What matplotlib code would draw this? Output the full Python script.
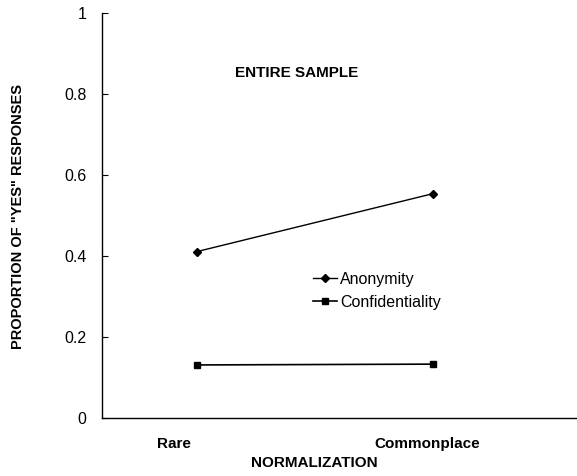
import matplotlib
matplotlib.use('Agg')
import matplotlib.pyplot as plt
import matplotlib.transforms as mtransforms

# data
categories = ['Rare', 'Commonplace']
anonymity = [0.411, 0.554]
confidentiality = [0.131, 0.133]
yticks = [0, 0.2, 0.4, 0.6, 0.8, 1]
yticklabels = ['0', '0.2', '0.4', '0.6', '0.8', '1']

plt.rcParams['font.family'] = ['Liberation Sans', 'DejaVu Sans']

fig = plt.figure(figsize=(5.77, 4.76), dpi=100)
ax = fig.add_axes([102 / 577, 1 - 418 / 476, 1 - 102 / 577, (418 - 13) / 476])

x = list(range(len(categories)))
ax.plot(x, anonymity, color='black', lw=1, marker='D', ms=4, label='Anonymity')
ax.plot(x, confidentiality, color='black', lw=1.2, marker='s', ms=5, label='Confidentiality')

ax.set_xlim(-0.403, 1.61)
ax.set_ylim(0, 1)

for s in ['top', 'right']:
    ax.spines[s].set_visible(False)
for s in ['left', 'bottom']:
    ax.spines[s].set_linewidth(1)

ax.set_yticks(yticks)
ax.set_yticklabels(yticklabels, fontsize=11.5)
ax.tick_params(axis='y', direction='in', length=4, width=0.8, pad=11)

ax.set_xticks(x)
ax.set_xticklabels(categories, fontsize=11, fontweight='bold')
ax.tick_params(axis='x', length=0, pad=14)
# nudge category labels left like the original
for lab, dx in zip(ax.get_xticklabels(), [-23, -6]):
    off = mtransforms.ScaledTranslation(dx / 100, 0, fig.dpi_scale_trans)
    lab.set_transform(lab.get_transform() + off)

fig.text(314 / 577, 1 - 463 / 476, 'NORMALIZATION', fontsize=11, fontweight='bold',
         ha='center', va='center')
fig.text(18 / 577, 1 - 217 / 476, 'PROPORTION OF "YES" RESPONSES', fontsize=10.5,
         fontweight='bold', rotation=90, ha='center', va='center')

ax.text(0.41, 0.853, 'ENTIRE SAMPLE', transform=ax.transAxes, fontsize=11,
        fontweight='bold', ha='center', va='center')

ax.legend(loc='upper left', bbox_to_anchor=(313 / 577, 1 - 272 / 476),
          bbox_transform=fig.transFigure, frameon=False, fontsize=11.5,
          borderpad=0, borderaxespad=0, handlelength=1.5, handletextpad=0.2,
          labelspacing=0.5)

fig.savefig('out.png', dpi=100)
